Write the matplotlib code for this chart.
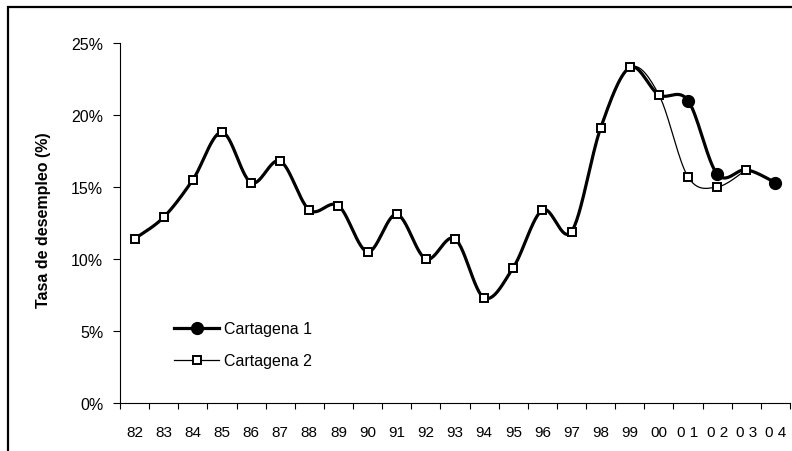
import numpy as np
import matplotlib.pyplot as plt
from matplotlib.lines import Line2D
from matplotlib.patches import Rectangle

plt.rcParams["font.family"] = ["Liberation Sans Narrow", "Liberation Sans", "DejaVu Sans"]

# Datos (tasa de desempleo, %)
anios = ["82", "83", "84", "85", "86", "87", "88", "89", "90", "91", "92", "93",
         "94", "95", "96", "97", "98", "99", "00", "0 1", "0 2", "0 3", "0 4"]
cartagena1 = [11.4, 12.9, 15.5, 18.8, 15.3, 16.8, 13.4, 13.7, 10.5, 13.1, 10.0, 11.4,
              7.3, 9.4, 13.4, 11.9, 19.1, 23.3, 21.4, 21.0, 15.9, 16.2, 15.3]
cartagena2 = [11.4, 12.9, 15.5, 18.8, 15.3, 16.8, 13.4, 13.7, 10.5, 13.1, 10.0, 11.4,
              7.3, 9.4, 13.4, 11.9, 19.1, 23.3, 21.4, 15.7, 15.0, 16.2]
marcas_c1 = [19, 20, 22]


# Curva suavizada tipo Excel (Bezier con puntos de control Catmull-Rom)
def suavizar(x, y, n=30):
    x = np.asarray(x, float)
    y = np.asarray(y, float)
    px = np.concatenate([[x[0]], x, [x[-1]]])
    py = np.concatenate([[y[0]], y, [y[-1]]])
    xs, ys = [], []
    t = np.linspace(0, 1, n)
    for i in range(1, len(px) - 2):
        p0 = np.array([px[i], py[i]])
        p3 = np.array([px[i + 1], py[i + 1]])
        p1 = p0 + (np.array([px[i + 1], py[i + 1]]) - np.array([px[i - 1], py[i - 1]])) / 6
        p2 = p3 - (np.array([px[i + 2], py[i + 2]]) - np.array([px[i], py[i]])) / 6
        b = ((1 - t) ** 3)[:, None] * p0 + (3 * (1 - t) ** 2 * t)[:, None] * p1 \
            + (3 * (1 - t) * t ** 2)[:, None] * p2 + (t ** 3)[:, None] * p3
        xs.extend(b[:, 0])
        ys.extend(b[:, 1])
    return np.array(xs), np.array(ys)


fig = plt.figure(figsize=(7.92, 4.52), dpi=100)
ax = fig.add_axes([120 / 792, 48 / 452, 670 / 792, 360 / 452])

x1 = np.arange(len(cartagena1)) + 0.5
x2 = np.arange(len(cartagena2)) + 0.5

sx, sy = suavizar(x1, cartagena1)
ax.plot(sx, sy, color="black", lw=2.3, solid_capstyle="round", zorder=3)
ax.plot(x1[marcas_c1], np.array(cartagena1)[marcas_c1], "o", color="black",
        ms=8.5, zorder=4)

sx, sy = suavizar(x2, cartagena2)
ax.plot(sx, sy, color="black", lw=0.9, zorder=5)
ax.plot(x2, cartagena2, "s", mfc="white", mec="black", mew=1.4, ms=6.3, zorder=6)

ax.set_xlim(0, len(anios))
ax.set_ylim(0, 25)
ax.set_yticks([0, 5, 10, 15, 20, 25])
ax.set_yticklabels(["0%", "5%", "10%", "15%", "20%", "25%"], fontsize=11.5)
ax.set_xticks(np.arange(len(anios) + 1))
ax.set_xticklabels([])
ax.set_xticks(x1, minor=True)
ax.set_xticklabels(anios, minor=True, fontsize=11)
ax.tick_params(axis="x", which="major", direction="out", length=4, width=0.8)
ax.tick_params(axis="x", which="minor", length=0, pad=16)
ax.tick_params(axis="y", direction="out", length=5, width=0.8, pad=7)

for lado in ["top", "right"]:
    ax.spines[lado].set_visible(False)
ax.spines["left"].set_linewidth(0.8)
ax.spines["bottom"].set_linewidth(0.8)

ax.set_ylabel("Tasa de desempleo (%)", fontsize=11.5, fontweight="bold")
ax.yaxis.set_label_coords(-69 / 670, (404 - 220) / 360)

handles = [
    Line2D([], [], color="black", lw=2.3, marker="o", ms=8.5),
    Line2D([], [], color="black", lw=0.9, marker="s", mfc="white", mec="black",
           mew=1.4, ms=6.3),
]
ax.legend(handles, ["Cartagena 1", "Cartagena 2"], loc="upper left",
          bbox_to_anchor=(160 / 792, 1 - 308 / 452), bbox_transform=fig.transFigure,
          frameon=False, fontsize=11.5, handlelength=2.8, handletextpad=0.3,
          labelspacing=1.05)

# Marco exterior del gráfico
fig.patches.append(Rectangle((8 / 792, -0.1), 1.2, 1 - 8 / 452 + 0.1,
                             transform=fig.transFigure, fill=False,
                             edgecolor="black", lw=1.6))

fig.savefig("out.png", dpi=100)
